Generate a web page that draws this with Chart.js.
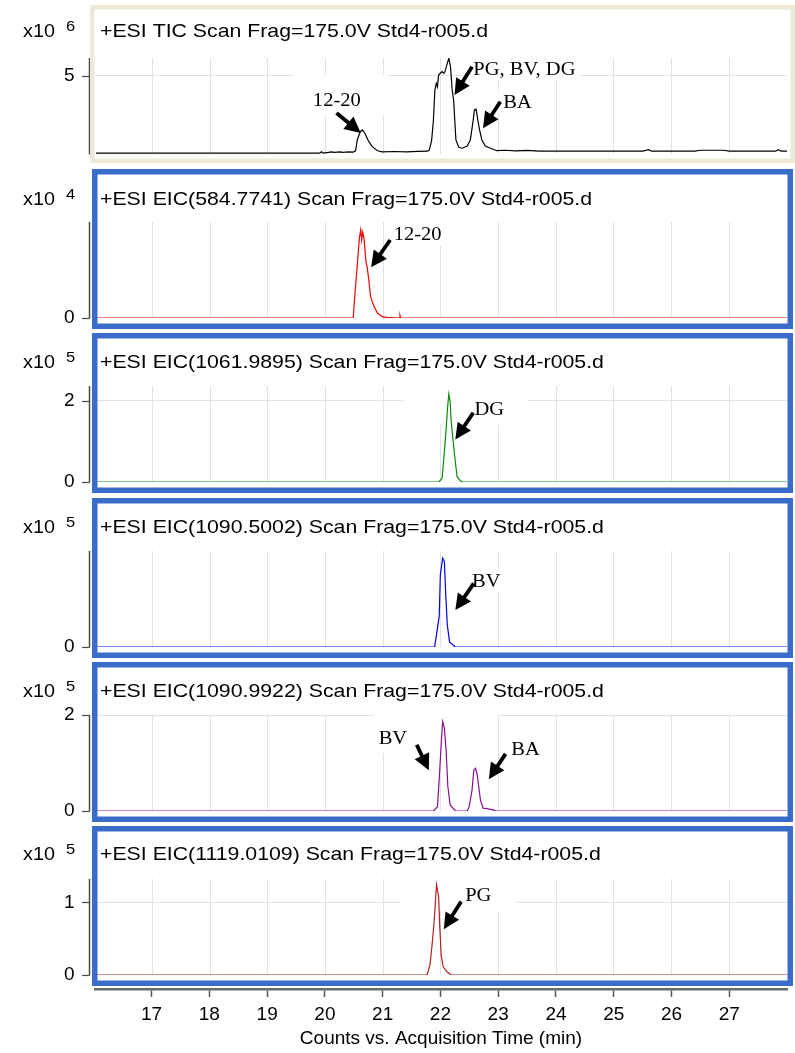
<!DOCTYPE html>
<html>
<head>
<meta charset="utf-8">
<script src="https://cdn.jsdelivr.net/npm/chart.js@4.4.1/dist/chart.umd.min.js"></script>
<style>
html,body{margin:0;padding:0;background:#fff;}
#wrap{position:relative;width:795px;height:1053px;overflow:hidden;background:#fff;}
#wrap canvas{position:absolute;left:0;}
</style>
</head>
<body>
<div id="wrap"></div>
<script>
// ---------------- data ----------------
const timeTicks = [17, 18, 19, 20, 21, 22, 23, 24, 25, 26, 27];
const xAxisTitle = 'Counts vs. Acquisition Time (min)';

// TIC (x10^6)
const ticTime   = [16.0, 19.9, 19.93, 19.96, 20.05, 20.1, 20.15, 20.25, 20.3, 20.4, 20.48, 20.52, 20.55, 20.6, 20.64, 20.68, 20.71, 20.75, 20.81, 20.9, 20.98, 21.2, 21.4, 21.6, 21.77, 21.8, 21.84, 21.87, 21.895, 21.92, 21.94, 21.96, 21.99, 22.02, 22.05, 22.07, 22.11, 22.137, 22.166, 22.195, 22.22, 22.24, 22.26, 22.31, 22.37, 22.455, 22.51, 22.56, 22.58, 22.61, 22.64, 22.67, 22.71, 22.77, 22.86, 22.97, 23.1, 23.3, 23.5, 23.7, 24.5, 25.5, 25.6, 25.65, 26.4, 26.5, 26.9, 27.0, 27.8, 27.85, 27.9, 28.0];
const ticCounts = [0.06, 0.06, 0.14, 0.06, 0.10, 0.14, 0.10, 0.14, 0.10, 0.14, 0.12, 0.20, 0.90, 1.43, 1.54, 1.33, 1.11, 0.79, 0.47, 0.21, 0.14, 0.16, 0.14, 0.17, 0.18, 0.26, 0.90, 2.18, 4.10, 4.53, 4.30, 5.06, 5.17, 5.28, 5.17, 5.28, 5.81, 6.13, 5.60, 4.10, 3.46, 2.18, 0.90, 0.43, 0.37, 0.51, 0.90, 2.18, 2.82, 2.87, 2.18, 1.54, 0.90, 0.51, 0.37, 0.21, 0.24, 0.20, 0.23, 0.18, 0.18, 0.18, 0.28, 0.18, 0.18, 0.24, 0.24, 0.18, 0.18, 0.28, 0.18, 0.18];

// EIC 584.7741 (x10^4)
const eic584Time   = [16.0, 20.48, 20.505, 20.55, 20.586, 20.609, 20.626, 20.643, 20.666, 20.70, 20.72, 20.75, 20.78, 20.84, 20.90, 20.98, 21.05, 21.13, 21.28, 21.29, 21.30, 28.0];
const eic584Counts = [0, 0, 1.05, 2.65, 3.99, 4.40, 3.90, 4.30, 4.00, 2.82, 2.57, 1.90, 1.07, 0.57, 0.25, 0.07, 0.03, 0.02, 0, 0.12, 0, 0];

// EIC 1061.9895 (x10^5)
const eic1061Time   = [16.0, 21.964, 22.02, 22.06, 22.09, 22.114, 22.137, 22.16, 22.18, 22.21, 22.24, 22.28, 22.34, 22.37, 28.0];
const eic1061Counts = [0, 0, 0.09, 0.75, 1.29, 1.82, 2.17, 1.98, 1.45, 1.04, 0.62, 0.13, 0.03, 0, 0];

// EIC 1090.5002 (x10^5)
const eic1090aTime   = [16.0, 21.89, 21.92, 21.97, 21.99, 22.03, 22.06, 22.08, 22.11, 22.15, 22.25, 28.0];
const eic1090aCounts = [0, 0, 0.22, 0.60, 1.43, 1.76, 1.69, 1.13, 0.44, 0.10, 0, 0];

// EIC 1090.9922 (x10^5)
const eic1090bTime   = [16.0, 21.87, 21.94, 21.97, 22.005, 22.03, 22.06, 22.09, 22.12, 22.16, 22.25, 22.455, 22.49, 22.54, 22.57, 22.60, 22.63, 22.655, 22.685, 22.73, 22.80, 22.92, 22.95, 28.0];
const eic1090bCounts = [0, 0, 0.09, 0.65, 1.41, 1.86, 1.72, 1.27, 0.51, 0.125, 0, 0, 0.09, 0.44, 0.85, 0.89, 0.75, 0.51, 0.23, 0.06, 0.05, 0.02, 0, 0];

// EIC 1119.0109 (x10^5)
const eic1119Time   = [16.0, 21.76, 21.81, 21.85, 21.885, 21.91, 21.925, 21.96, 21.98, 22.005, 22.04, 22.11, 22.18, 28.0];
const eic1119Counts = [0, 0, 0.14, 0.44, 0.76, 1.08, 1.24, 1.08, 0.66, 0.27, 0.11, 0.04, 0, 0];

const panelTitles = [
  '+ESI TIC Scan Frag=175.0V Std4-r005.d',
  '+ESI EIC(584.7741) Scan Frag=175.0V Std4-r005.d',
  '+ESI EIC(1061.9895) Scan Frag=175.0V Std4-r005.d',
  '+ESI EIC(1090.5002) Scan Frag=175.0V Std4-r005.d',
  '+ESI EIC(1090.9922) Scan Frag=175.0V Std4-r005.d',
  '+ESI EIC(1119.0109) Scan Frag=175.0V Std4-r005.d'
];
const exponents = ['6', '4', '5', '5', '5', '5'];
const yTickValues = [[5], [0], [0, 2], [0], [0, 2], [0, 1]];
const yMaxValues = [6.15, 4.8, 2.37, 1.9, 2.0, 1.32];

// annotations: text, label anchor [time, value] (left/baseline), arrow tail, arrow head,
// optional opaque label box [t1, v1, t2, v2]
const notes = [
  [
    {text: '12-20', at: [19.78, 3.07], from: [20.19, 2.63], to: [20.61, 1.35], box: [19.44, 5.0, 21.08, 2.5]},
    {text: 'PG, BV, DG', at: [22.56, 5.06], from: [22.54, 5.59], to: [22.235, 3.78]},
    {text: 'BA', at: [23.08, 2.95], from: [23.03, 3.35], to: [22.73, 1.65]}
  ],
  [ {text: '12-20', at: [21.18, 3.9], from: [21.12, 3.9], to: [20.79, 2.54], box: [21.05, 4.8, 22.17, 3.6]} ],
  [ {text: 'DG', at: [22.58, 1.65], from: [22.56, 1.71], to: [22.25, 1.05], box: [21.34, 2.35, 23.50, 1.41]} ],
  [ {text: 'BV', at: [22.54, 1.19], from: [22.57, 1.26], to: [22.25, 0.73]} ],
  [
    {text: 'BV', at: [20.92, 1.40], from: [21.58, 1.38], to: [21.79, 0.85], box: [20.83, 2.0, 22.98, 1.21]},
    {text: 'BA', at: [23.22, 1.17], from: [23.12, 1.19], to: [22.83, 0.66]}
  ],
  [ {text: 'PG', at: [22.42, 1.02], from: [22.35, 1.01], to: [22.05, 0.63], box: [21.30, 1.32, 23.32, 0.87]} ]
];

const series = [
  {t: ticTime, v: ticCounts, color: '#000000'},
  {t: eic584Time, v: eic584Counts, color: '#f00000'},
  {t: eic1061Time, v: eic1061Counts, color: '#0a8a0a'},
  {t: eic1090aTime, v: eic1090aCounts, color: '#0000f0'},
  {t: eic1090bTime, v: eic1090bCounts, color: '#86108e'},
  {t: eic1119Time, v: eic1119Counts, color: '#b41e1e'}
];

// ---------------- layout / style ----------------
const W = 795;
const panelTop = [5, 169, 333, 498, 662, 826];
const titleBase = [32, 36, 35, 35, 35, 34];
const PANEL_H = 162;
const X_MIN = 16.02, X_MAX = 28.0;
const SANS = "'Liberation Sans', Arial, sans-serif";
const SERIF = "'Liberation Serif', 'Times New Roman', serif";
const TEXT_SX = 1.12;
const GRID = '#e2e2e2';

function stretchText(ctx, text, x, y, font, sx) {
  ctx.save();
  ctx.font = font;
  ctx.textAlign = 'left';
  ctx.textBaseline = 'alphabetic';
  ctx.fillStyle = '#000';
  ctx.translate(x, y);
  ctx.scale(sx, 1);
  ctx.fillText(text, 0, 0);
  ctx.restore();
}

function drawArrow(ctx, x1, y1, x2, y2) {
  const a = Math.atan2(y2 - y1, x2 - x1);
  const hl = 16, hw = 8;
  const bx = x2 - hl * Math.cos(a), by = y2 - hl * Math.sin(a);
  ctx.save();
  ctx.strokeStyle = '#000'; ctx.fillStyle = '#000';
  ctx.lineWidth = 3.8; ctx.lineCap = 'butt';
  ctx.beginPath(); ctx.moveTo(x1, y1); ctx.lineTo(bx + 2 * Math.cos(a), by + 2 * Math.sin(a)); ctx.stroke();
  ctx.beginPath();
  ctx.moveTo(x2, y2);
  ctx.lineTo(bx + hw * Math.sin(a), by - hw * Math.cos(a));
  ctx.lineTo(bx - hw * Math.sin(a), by + hw * Math.cos(a));
  ctx.closePath(); ctx.fill();
  ctx.restore();
}

function makeDecor(i) {
  return {
    id: 'decor' + i,
    beforeDatasetsDraw(chart) {
      const ctx = chart.ctx, xs = chart.scales.x, ys = chart.scales.y, ca = chart.chartArea;
      ctx.save();
      ctx.beginPath(); ctx.rect(ca.left, ca.top, ca.right - ca.left, ca.bottom - ca.top); ctx.clip();
      ctx.font = '19px ' + SERIF;
      ctx.fillStyle = '#fff';
      notes[i].forEach(n => {
        const x = xs.getPixelForValue(n.at[0]), y = ys.getPixelForValue(n.at[1]);
        const w = ctx.measureText(n.text).width * 1.08;
        ctx.fillRect(x - 5, y - 17, w + 10, 22);
        if (n.box) {
          const x1 = xs.getPixelForValue(n.box[0]), y1 = ys.getPixelForValue(n.box[1]);
          const x2 = xs.getPixelForValue(n.box[2]), y2 = ys.getPixelForValue(n.box[3]);
          ctx.fillRect(x1, y1 - 1, x2 - x1, y2 - y1 + 1);
        }
      });
      ctx.restore();
    },
    afterDatasetsDraw(chart) {
      const ctx = chart.ctx, xs = chart.scales.x, ys = chart.scales.y;
      notes[i].forEach(n => {
        drawArrow(ctx, xs.getPixelForValue(n.from[0]), ys.getPixelForValue(n.from[1]),
                       xs.getPixelForValue(n.to[0]), ys.getPixelForValue(n.to[1]));
        stretchText(ctx, n.text, xs.getPixelForValue(n.at[0]), ys.getPixelForValue(n.at[1]), '19px ' + SERIF, 1.08);
      });
    },
    afterDraw(chart) {
      const ctx = chart.ctx, ys = chart.scales.y, ca = chart.chartArea;
      ctx.save();
      // y axis line and tick marks
      ctx.strokeStyle = '#4a4a4a';
      ctx.lineWidth = 1.5;
      ctx.beginPath(); ctx.moveTo(89.5, ca.top); ctx.lineTo(89.5, ca.bottom + 0.5); ctx.stroke();
      ctx.lineWidth = 1.2;
      yTickValues[i].forEach(v => {
        const y = Math.round(ys.getPixelForValue(v)) + 0.5;
        ctx.beginPath(); ctx.moveTo(82, y); ctx.lineTo(89.5, y); ctx.stroke();
      });
      // panel frame
      if (i === 0) {
        ctx.strokeStyle = '#ece9d8'; ctx.lineWidth = 4.5;
        ctx.strokeRect(90 + 2.25, 2.25, 795 - 90 - 4.5, 158 - 4.5);
      } else {
        ctx.strokeStyle = '#3a6dca'; ctx.lineWidth = 5.5;
        ctx.strokeRect(92 + 2.75, 2.75, 793 - 92 - 5.5, 160 - 5.5);
      }
      ctx.restore();
      // titles
      stretchText(ctx, panelTitles[i], 100, titleBase[i], '19px ' + SANS, TEXT_SX);
      stretchText(ctx, 'x10', 23, titleBase[i], '18px ' + SANS, 1.1);
      stretchText(ctx, exponents[i], 66, titleBase[i] - 6, '15px ' + SANS, 1.1);
    }
  };
}

const wrap = document.getElementById('wrap');
function addCanvas(top, h) {
  const c = document.createElement('canvas');
  c.width = W; c.height = h;
  c.style.top = top + 'px';
  c.style.width = W + 'px'; c.style.height = h + 'px';
  wrap.appendChild(c);
  return c;
}

series.forEach((s, i) => {
  const cv = addCanvas(panelTop[i], PANEL_H);
  new Chart(cv, {
    type: 'line',
    data: {
      datasets: [{
        data: s.t.map((t, k) => ({x: t, y: s.v[k]})),
        borderColor: s.color,
        borderWidth: 1.2,
        pointRadius: 0,
        tension: 0,
        fill: false
      }]
    },
    options: {
      responsive: false,
      maintainAspectRatio: false,
      animation: false,
      events: [],
      devicePixelRatio: 1,
      layout: {padding: {top: 53, bottom: PANEL_H - 149, left: 64, right: W - 787}},
      plugins: {legend: {display: false}, tooltip: {enabled: false}, title: {display: false}},
      scales: {
        x: {
          type: 'linear', min: X_MIN, max: X_MAX,
          afterBuildTicks: sc => { sc.ticks = timeTicks.map(v => ({value: v})); },
          afterFit: sc => { sc.height = 0; },
          ticks: {display: false},
          grid: {color: GRID, lineWidth: 1, drawTicks: false},
          border: {display: false}
        },
        y: {
          type: 'linear', min: 0, max: yMaxValues[i],
          afterBuildTicks: sc => { sc.ticks = yTickValues[i].map(v => ({value: v})); },
          afterFit: sc => { sc.width = 32; },
          ticks: {padding: 0, crossAlign: 'far', color: '#000', font: {family: SANS, size: 19}},
          grid: {drawTicks: false, lineWidth: 1, color: c => (c.tick && c.tick.value === 0) ? 'rgba(0,0,0,0)' : GRID},
          border: {display: false}
        }
      }
    },
    plugins: [makeDecor(i)]
  });
});

// shared time axis at the bottom
const axCv = addCanvas(970, 83);
new Chart(axCv, {
  type: 'line',
  data: {datasets: []},
  options: {
    responsive: false,
    maintainAspectRatio: false,
    animation: false,
    events: [],
    devicePixelRatio: 1,
    layout: {padding: {top: 0, bottom: 0, left: 95, right: W - 787}},
    plugins: {legend: {display: false}, tooltip: {enabled: false}},
    scales: {
      x: {
        type: 'linear', position: 'bottom', min: X_MIN, max: X_MAX,
        afterBuildTicks: sc => { sc.ticks = timeTicks.map(v => ({value: v})); },
        afterFit: sc => { sc.height = 64; },
        ticks: {color: '#000', padding: 6, font: {family: SANS, size: 19}, maxRotation: 0},
        grid: {display: true, drawOnChartArea: false, drawTicks: true, tickLength: 8, tickColor: '#555', tickWidth: 1.5},
        border: {display: true, color: '#6a6a6a', width: 2.5},
        title: {display: true, text: xAxisTitle, color: '#000', font: {family: SANS, size: 19}, padding: {top: 0, bottom: 3}}
      },
      y: {display: false, min: 0, max: 1}
    }
  }
});
</script>
</body>
</html>
